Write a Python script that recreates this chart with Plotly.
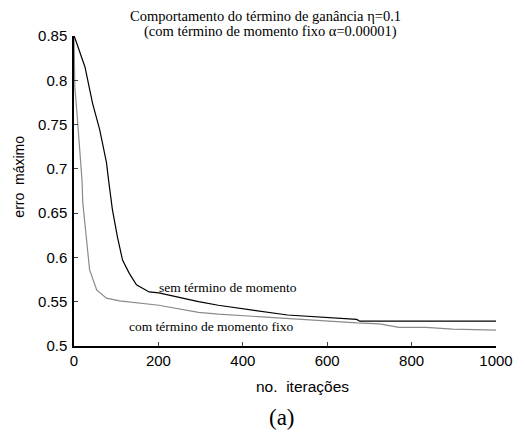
import plotly.graph_objects as go

# Black curve: sem término de momento
iter_sem = [0, 2, 26, 44, 61, 77, 82, 84, 91, 103, 115, 131, 148, 178, 201, 295, 342, 506, 670, 677, 1000]
erro_sem = [0.85, 0.848, 0.815, 0.774, 0.744, 0.707, 0.687, 0.680, 0.654, 0.623, 0.597, 0.582, 0.569,
            0.561, 0.560, 0.550, 0.546, 0.535, 0.530, 0.528, 0.528]

# Gray curve: com término de momento fixo
iter_com = [0, 2, 7, 14, 19, 21, 30, 37, 54, 77, 108, 201, 295, 342, 670, 724, 770, 834, 897, 1000]
erro_com = [0.85, 0.792, 0.763, 0.718, 0.687, 0.661, 0.623, 0.586, 0.563, 0.554, 0.551, 0.546, 0.538,
            0.536, 0.526, 0.525, 0.521, 0.521, 0.519, 0.518]

x_ticks = [0, 200, 400, 600, 800, 1000]
y_ticks = [0.5, 0.55, 0.6, 0.65, 0.7, 0.75, 0.8, 0.85]
y_labels = ["0.5", "0.55", "0.6", "0.65", "0.7", "0.75", "0.8", "0.85"]

serif = "Liberation Serif, Times New Roman, serif"
sans = "Liberation Sans, Arial, sans-serif"

fig = go.Figure()
fig.add_trace(go.Scatter(x=iter_com, y=erro_com, mode="lines",
                         line=dict(color="#8a8a8a", width=1.2), showlegend=False))
fig.add_trace(go.Scatter(x=iter_sem, y=erro_sem, mode="lines",
                         line=dict(color="#000000", width=1.2), showlegend=False))

fig.update_layout(
    width=525, height=436,
    margin=dict(l=74, r=24, t=36, b=90),
    paper_bgcolor="white", plot_bgcolor="white",
    font=dict(family=sans, size=15, color="black"),
    xaxis=dict(range=[0, 1000], tickvals=x_ticks, ticks="inside", ticklen=4,
               showline=True, linecolor="black", linewidth=1.5, showgrid=False,
               zeroline=False, tickfont=dict(size=15, family=sans)),
    yaxis=dict(range=[0.5, 0.85], tickvals=y_ticks, ticktext=y_labels, ticks="inside", ticklen=4,
               showline=True, linecolor="black", linewidth=1.5, showgrid=False,
               zeroline=False, tickfont=dict(size=15, family=sans), ticklabelstandoff=2),
)

ann = [
    dict(text="Comportamento do término de ganância η=0.1", x=268, y=16, size=14.5, fam=serif),
    dict(text="(com término de momento fixo α=0.00001)", x=273, y=32, size=14.5, fam=serif),
    dict(text="no.  iterações", x=305, y=386, size=15.5, fam=sans),
    dict(text="(a)", x=284, y=417, size=23, fam=serif),
]
for a in ann:
    fig.add_annotation(text=a["text"], xref="paper", yref="paper",
                       x=(a["x"] - 74) / 427, y=1 - (a["y"] - 36) / 310,
                       xanchor="center", yanchor="middle", showarrow=False,
                       font=dict(family=a["fam"], size=a["size"], color="black"))

fig.add_annotation(text="erro  máximo", xref="paper", yref="paper",
                   x=(18 - 74) / 427, y=1 - (177 - 36) / 310, textangle=-90,
                   xanchor="center", yanchor="middle", showarrow=False,
                   font=dict(family=sans, size=14, color="black"))

fig.add_annotation(text="sem término de momento", x=197, y=0.5555, xref="x", yref="y",
                   xanchor="left", yanchor="bottom", showarrow=False,
                   font=dict(family=serif, size=13.5, color="black"))
fig.add_annotation(text="com término de momento fixo", x=126, y=0.522, xref="x", yref="y",
                   xanchor="left", yanchor="middle", showarrow=False,
                   font=dict(family=serif, size=13.5, color="black"))

fig.write_html("out.html")
